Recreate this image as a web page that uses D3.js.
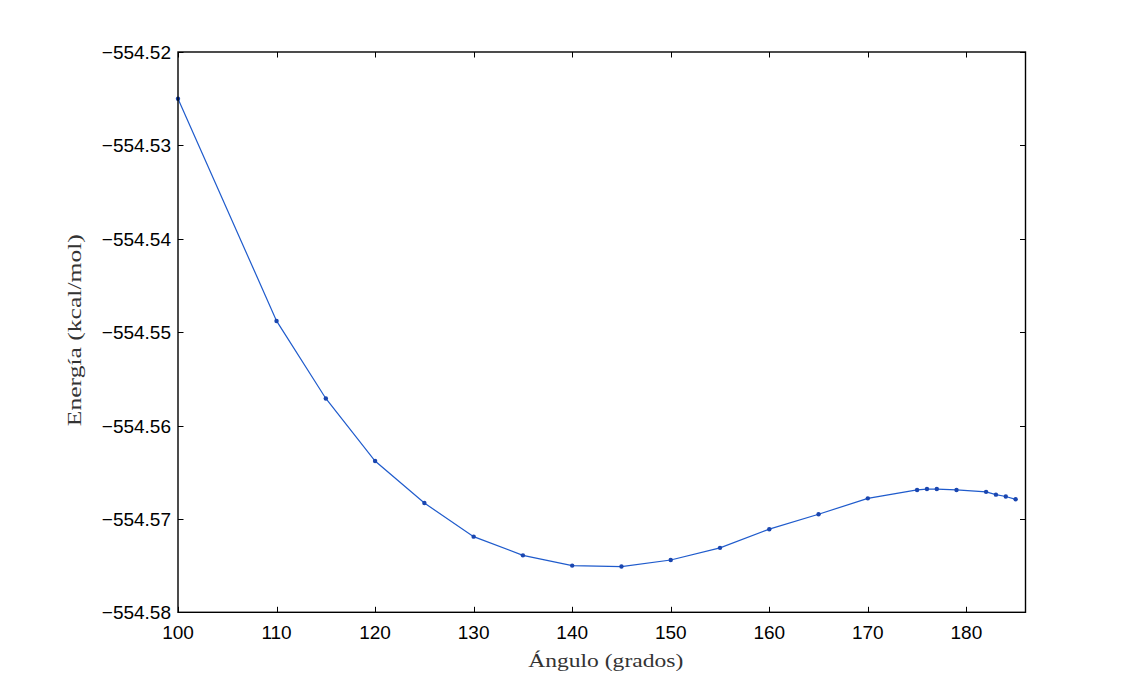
<!DOCTYPE html>
<html>
<head>
<meta charset="utf-8">
<script src="https://cdn.jsdelivr.net/npm/d3@7"></script>
<style>
  html, body { margin: 0; padding: 0; background: #fff; }
  svg { display: block; }
</style>
</head>
<body>
<svg id="chart" width="1134" height="690"></svg>
<script>
const angles = [100, 110, 115, 120, 125, 130, 135, 140, 145, 150, 155, 160, 165, 170, 175, 176, 177, 179, 182, 183, 184, 185];
const energies = [-554.5250, -554.5488, -554.5571, -554.5638, -554.5683, -554.5719, -554.5739, -554.5750, -554.5751, -554.5744, -554.5731, -554.5711, -554.5695, -554.5678, -554.5669, -554.5668, -554.5668, -554.5669, -554.5671, -554.5674, -554.5676, -554.5679];
const xTicks = [100, 110, 120, 130, 140, 150, 160, 170, 180];
const yTicks = [-554.52, -554.53, -554.54, -554.55, -554.56, -554.57, -554.58];
const xTitle = "Ángulo (grados)";
const yTitle = "Energía (kcal/mol)";

const svg = d3.select("#chart");
const L = 178, R = 1025.5, T = 52, B = 612.3;
const x = d3.scaleLinear().domain([100, 186]).range([L, R]);
const y = d3.scaleLinear().domain([-554.58, -554.52]).range([B, T]);

const data = angles.map((a, i) => ({a, e: energies[i]}));
const tickFont = "'Liberation Sans', Arial, Helvetica, sans-serif";
const fmtY = v => d3.format(".2f")(v).replace("-", "\u2212");

// inner ticks
const tl = 5.5;
const gTicks = svg.append("g").attr("stroke", "#000").attr("stroke-width", 1);
xTicks.forEach(t => {
  const px = Math.round(x(t)) + 0.5;
  gTicks.append("line").attr("x1", px).attr("x2", px).attr("y1", B).attr("y2", B - tl);
  gTicks.append("line").attr("x1", px).attr("x2", px).attr("y1", T).attr("y2", T + tl);
});
yTicks.forEach(t => {
  const py = Math.round(y(t)) + 0.5;
  gTicks.append("line").attr("x1", L).attr("x2", L + tl).attr("y1", py).attr("y2", py);
  gTicks.append("line").attr("x1", R).attr("x2", R - tl).attr("y1", py).attr("y2", py);
});

// tick labels
svg.append("g").selectAll("text").data(xTicks).join("text")
  .attr("x", d => x(d)).attr("y", 639)
  .attr("text-anchor", "middle")
  .attr("font-family", tickFont).attr("font-size", 19)
  .attr("fill", "#000")
  .text(d => d);
svg.append("g").selectAll("text").data(yTicks).join("text")
  .attr("x", 171).attr("y", d => y(d) + 7)
  .attr("text-anchor", "end")
  .attr("font-family", tickFont).attr("font-size", 19)
  .attr("fill", "#000")
  .text(d => fmtY(d));

// line
const line = d3.line().x(d => x(d.a)).y(d => y(d.e));
svg.append("path").datum(data)
  .attr("d", line)
  .attr("fill", "none")
  .attr("stroke", "#1f5bcc")
  .attr("stroke-width", 1.2);
svg.append("g").selectAll("circle").data(data).join("circle")
  .attr("cx", d => x(d.a)).attr("cy", d => y(d.e))
  .attr("r", 2.2)
  .attr("fill", "#1a46b0");

// box
svg.append("rect")
  .attr("x", L).attr("y", T).attr("width", R - L).attr("height", B - T)
  .attr("fill", "none").attr("stroke", "#000").attr("stroke-width", 1.4);

// titles
const serif = "'Liberation Serif', 'DejaVu Serif', serif";
svg.append("text")
  .attr("x", (L + R) / 2 + 4).attr("y", 667)
  .attr("text-anchor", "middle")
  .attr("font-family", serif).attr("font-size", 18)
  .attr("textLength", 155).attr("lengthAdjust", "spacingAndGlyphs")
  .attr("fill", "#333")
  .text(xTitle);
svg.append("text")
  .attr("transform", `translate(81,${(T + B) / 2 - 2}) rotate(-90)`)
  .attr("text-anchor", "middle")
  .attr("font-family", serif).attr("font-size", 18)
  .attr("textLength", 192).attr("lengthAdjust", "spacingAndGlyphs")
  .attr("fill", "#333")
  .text(yTitle);
</script>
</body>
</html>
